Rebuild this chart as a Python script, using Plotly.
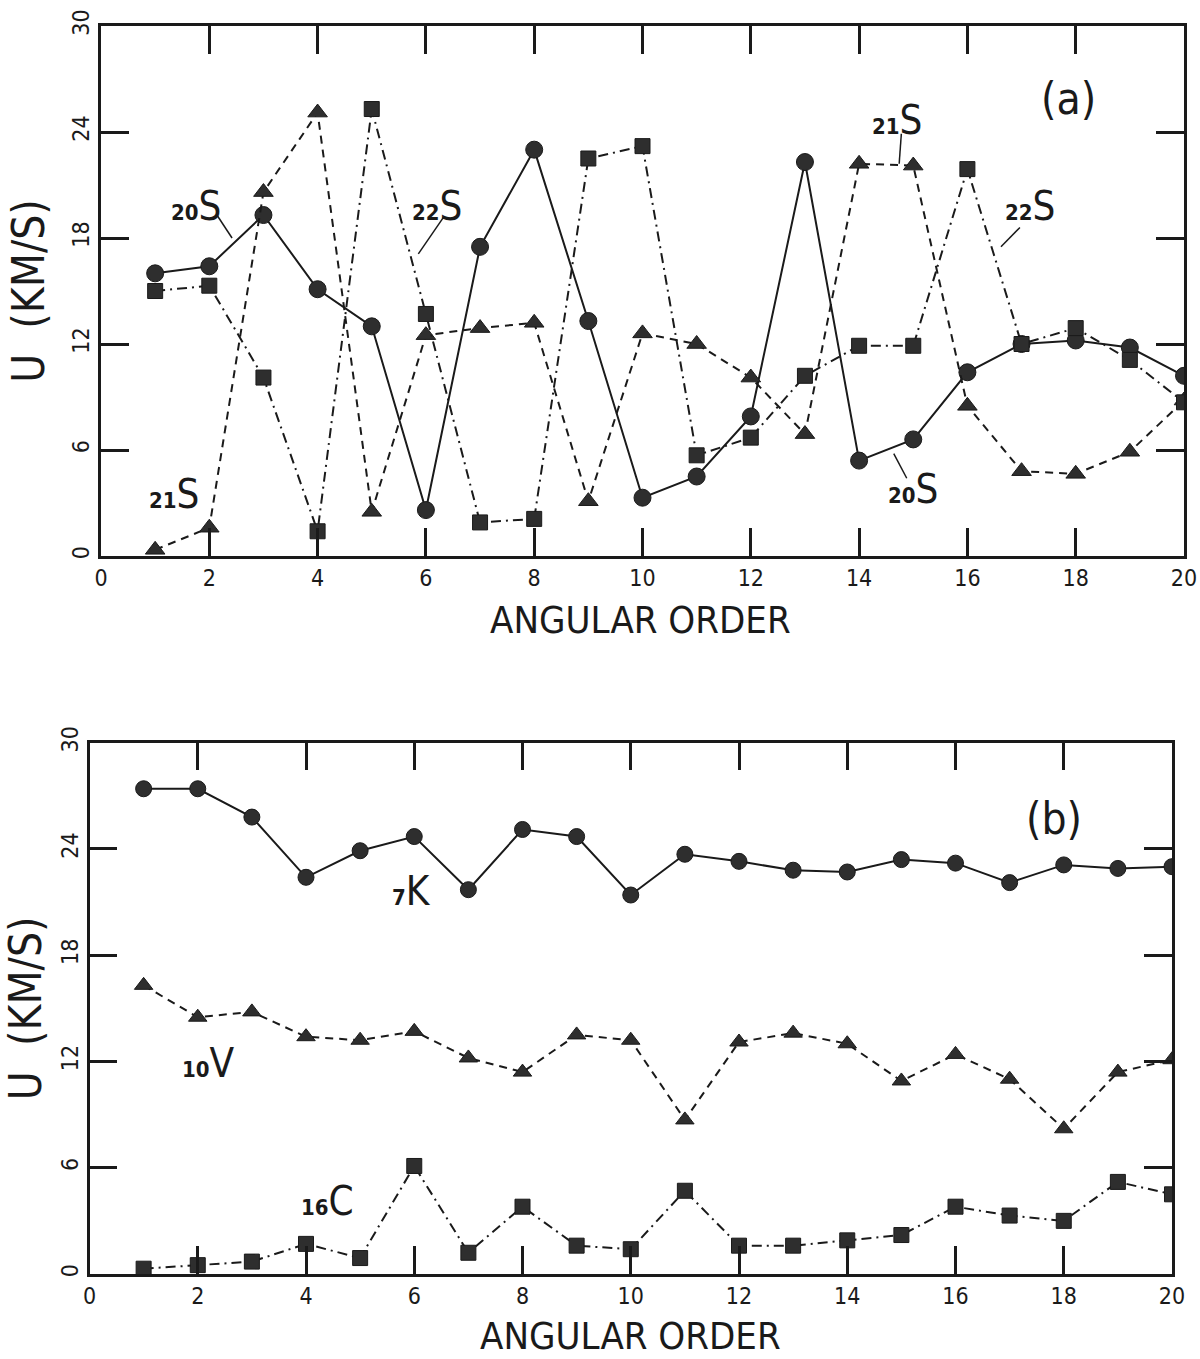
import plotly.graph_objects as go

# ---------------- data ----------------
orders = list(range(1, 21))

# panel (a)
s20 = [16.0, 16.4, 19.3, 15.1, 13.0, 2.6, 17.5, 23.0, 13.3, 3.3,
       4.5, 7.9, 22.3, 5.4, 6.6, 10.4, 12.0, 12.2, 11.8, 10.2]
s21 = [0.35, 1.6, 20.6, 25.1, 2.5, 12.5, 12.9, 13.2, 3.1, 12.6,
       12.0, 10.1, 6.9, 22.2, 22.1, 8.5, 4.8, 4.65, 5.9, 8.8]
s22 = [15.0, 15.3, 10.1, 1.4, 25.3, 13.7, 1.9, 2.1, 22.5, 23.2,
       5.7, 6.7, 10.2, 11.9, 11.9, 21.9, 12.0, 12.9, 11.1, 8.7]

# panel (b)
k7 = [27.4, 27.4, 25.8, 22.4, 23.9, 24.7, 21.7, 25.1, 24.7, 21.4,
      23.7, 23.3, 22.8, 22.7, 23.4, 23.2, 22.1, 23.1, 22.9, 23.0]
v10 = [16.3, 14.5, 14.8, 13.4, 13.2, 13.7, 12.2, 11.4, 13.5, 13.2,
       8.7, 13.1, 13.6, 13.0, 10.9, 12.4, 11.0, 8.2, 11.4, 12.1]
c16 = [0.3, 0.5, 0.7, 1.7, 0.9, 6.1, 1.2, 3.8, 1.6, 1.4,
       4.7, 1.6, 1.6, 1.9, 2.2, 3.8, 3.3, 3.0, 5.2, 4.5]

x_ticks = [0, 2, 4, 6, 8, 10, 12, 14, 16, 18, 20]
y_ticks = [0, 6, 12, 18, 24, 30]
x_title = "ANGULAR ORDER"
y_title = "U  (KM/S)"

FONT = "DejaVu Sans Condensed, Liberation Sans Narrow, DejaVu Sans, sans-serif"
INK = "#1a1a1a"
MK = "#2e2e2e"

fig = go.Figure()

def add(x, y, xa, ya, dash, symbol, size):
    fig.add_trace(go.Scatter(
        x=x, y=y, xaxis=xa, yaxis=ya, mode="lines+markers",
        line=dict(color=INK, width=2, dash=dash),
        marker=dict(symbol=symbol, size=size, color=MK,
                    line=dict(color=INK, width=1)),
        showlegend=False, hoverinfo="skip"))

# panel (a)
add(orders, s20, "x", "y", "solid", "circle", 17)
add(orders, s21, "x", "y", "8px,6px", "triangle-up", 17)
add(orders, s22, "x", "y", "10px,5px,2px,5px", "square", 15)
# panel (b)
add(orders, k7, "x2", "y2", "solid", "circle", 16)
add(orders, v10, "x2", "y2", "8px,6px", "triangle-up", 16)
add(orders, c16, "x2", "y2", "10px,5px,2px,5px", "square", 15)

axis_common = dict(
    showline=True, linecolor=INK, linewidth=2.5, mirror="ticks",
    ticks="inside", ticklen=28, tickwidth=2.5, tickcolor=INK,
    showgrid=False, zeroline=False, automargin=False,
    tickfont=dict(family=FONT, size=23, color=INK),
)
tfont = dict(family=FONT, size=44, color=INK)
xfont = dict(family=FONT, size=38, color=INK)

fig.update_layout(
    width=1200, height=1359,
    margin=dict(l=0, r=0, t=0, b=0),
    paper_bgcolor="white", plot_bgcolor="white",
    xaxis=dict(domain=[101/1200, 1184/1200], range=[0, 20], tickvals=x_ticks,
               anchor="y", **axis_common),
    yaxis=dict(domain=[1-556/1359, 1-26/1359], range=[0, 30], tickvals=y_ticks,
               anchor="x", tickangle=-90,
               title=dict(text=y_title, font=tfont, standoff=10),
               **axis_common),
    xaxis2=dict(domain=[89.5/1200, 1172/1200], range=[0, 20], tickvals=x_ticks,
                anchor="y2", **axis_common),
    yaxis2=dict(domain=[1-1274/1359, 1-742.7/1359], range=[0, 30], tickvals=y_ticks,
                anchor="x2", tickangle=-90,
                title=dict(text=y_title, font=tfont, standoff=10),
                **axis_common),
)

# x-axis titles placed in paper space (tight against the tick labels as in the original)
fig.add_annotation(text=x_title, xref="paper", yref="paper", x=640/1200, y=1-643/1359,
                   xanchor="center", yanchor="bottom", showarrow=False, font=xfont,
                   borderpad=0)
fig.add_annotation(text=x_title, xref="paper", yref="paper", x=630/1200, y=0,
                   xanchor="center", yanchor="bottom", showarrow=False, font=xfont,
                   borderpad=0)

def label(txt, x, y, xr, yr, size=40):
    fig.add_annotation(text=txt, x=x, y=y, xref=xr, yref=yr, showarrow=False,
                       font=dict(family=FONT, size=size, color=INK))

sub = lambda n, l: f"<span style='font-size:22px'><b>{n}</b></span>{l}"

# panel (a) labels
label(sub("20", "S"), 1.75, 19.8, "x", "y")
label(sub("22", "S"), 6.2, 19.8, "x", "y")
label(sub("21", "S"), 14.7, 24.7, "x", "y")
label(sub("22", "S"), 17.15, 19.8, "x", "y")
label(sub("21", "S"), 1.35, 3.5, "x", "y")
label(sub("20", "S"), 15.0, 3.8, "x", "y")
label("(a)", 17.86, 25.9, "x", "y", 44)
# panel (b) labels
label(sub("7", "K"), 5.95, 21.6, "x2", "y2")
label(sub("10", "V"), 2.2, 11.9, "x2", "y2")
label(sub("16", "C"), 4.4, 4.1, "x2", "y2")
label("(b)", 17.82, 25.74, "x2", "y2", 44)

# leader lines
leaders = [
    (2.14, 19.3, 2.42, 18.0, "x", "y"),
    (6.32, 19.15, 5.86, 17.1, "x", "y"),
    (14.78, 23.9, 14.74, 22.2, "x", "y"),
    (16.97, 18.6, 16.62, 17.5, "x", "y"),
    (14.88, 4.4, 14.64, 5.8, "x", "y"),
]
for x0, y0, x1, y1, xr, yr in leaders:
    fig.add_shape(type="line", x0=x0, y0=y0, x1=x1, y1=y1, xref=xr, yref=yr,
                  line=dict(color=INK, width=1.5))

fig.write_html("out.html")
